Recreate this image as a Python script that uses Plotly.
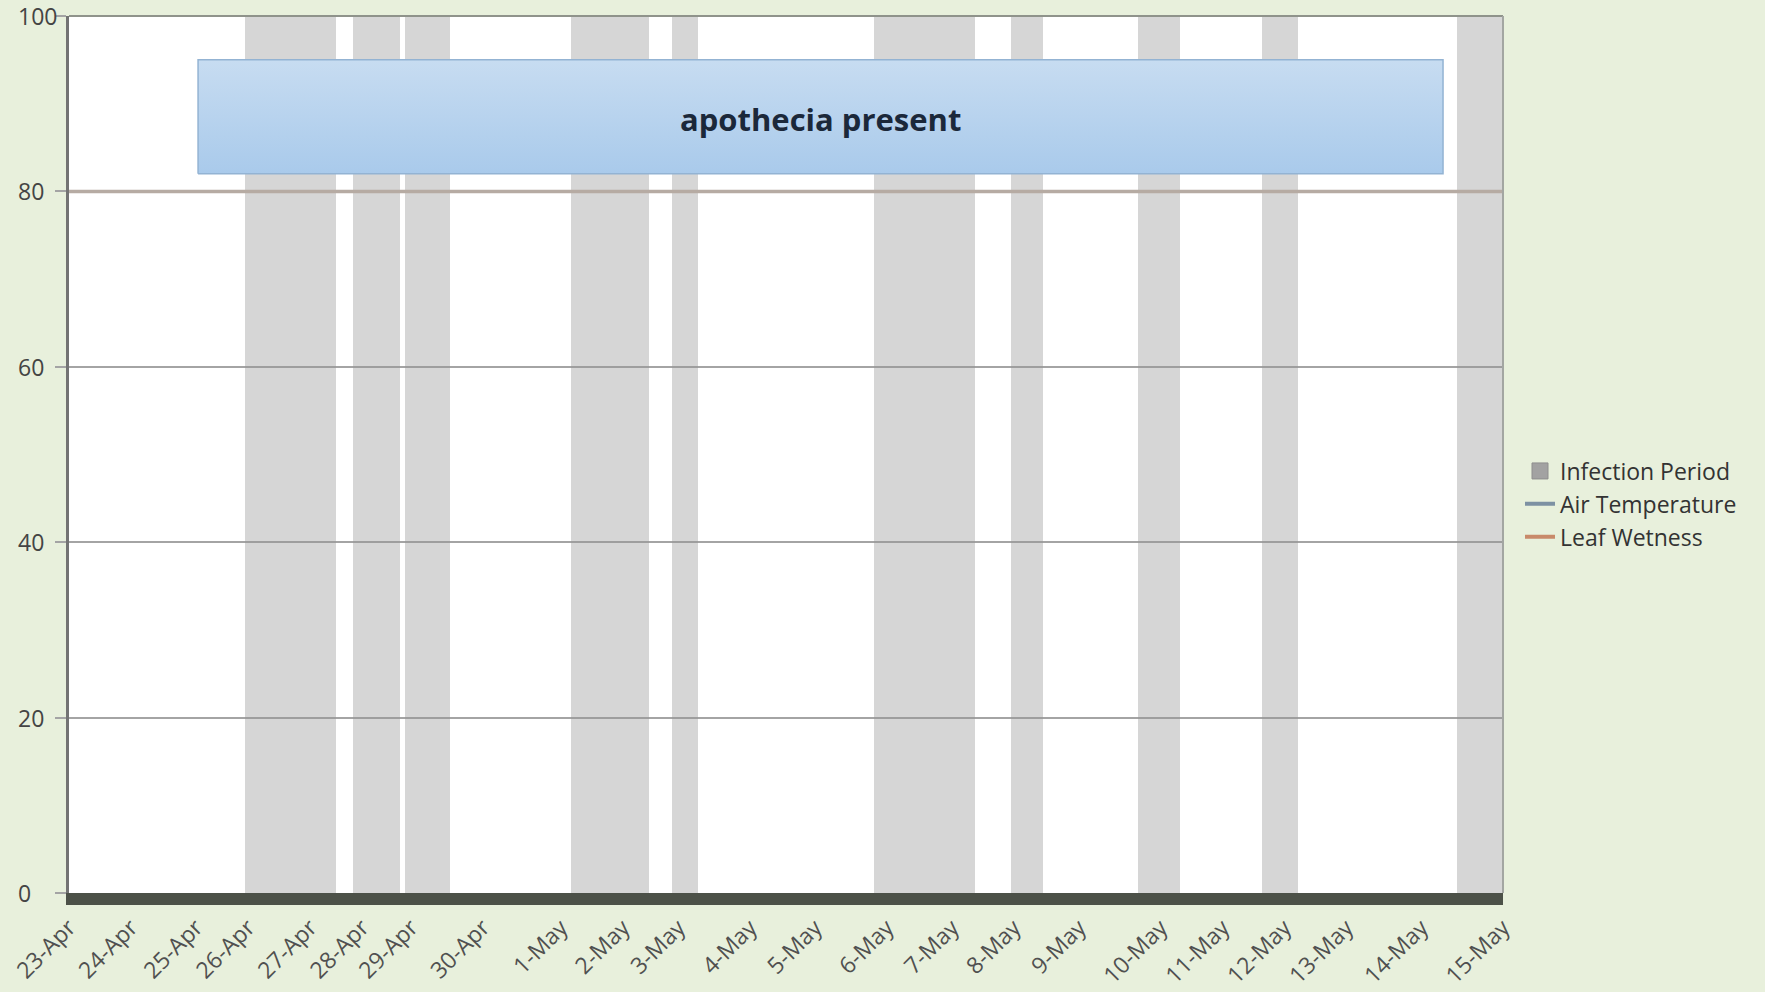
import plotly.graph_objects as go

# Reading index along the x axis (440 hourly-ish readings, day labels at first reading of each day)
day_labels = ["23-Apr", "24-Apr", "25-Apr", "26-Apr", "27-Apr", "28-Apr", "29-Apr", "30-Apr",
              "1-May", "2-May", "3-May", "4-May", "5-May", "6-May", "7-May", "8-May",
              "9-May", "10-May", "11-May", "12-May", "13-May", "14-May", "15-May"]
day_start_index = [0, 19, 39, 55, 74, 90, 105, 127, 151, 170, 187, 209, 229, 251,
                   271, 290, 310, 335, 354, 373, 392, 415, 440]

# Infection periods (start / end reading index)
infection_start = [54, 87, 103, 154, 185, 247, 289, 328, 366, 426]
infection_end = [82, 101.5, 117, 178, 193, 278, 299, 341, 377, 440]

# Leaf wetness readings
leaf_wetness_index = [0, 440]
leaf_wetness = [80, 80]

# Period with apothecia present
apothecia_period = [39.6, 421.6]

y_ticks = [0, 20, 40, 60, 80, 100]

W, H = 1765, 992
L, R, T, B = 69, 262, 16, 99
PLOT_W = W - L - R

fig = go.Figure()

# Infection periods as full-height columns
centers = [(s + e) / 2 for s, e in zip(infection_start, infection_end)]
widths = [e - s for s, e in zip(infection_start, infection_end)]
fig.add_trace(go.Bar(
    x=centers, y=[100] * len(centers), width=widths,
    marker=dict(color="rgba(150,150,150,0.39)", line=dict(width=0)),
    showlegend=False, hoverinfo="skip",
))

# Leaf wetness line
fig.add_trace(go.Scatter(
    x=leaf_wetness_index, y=leaf_wetness, mode="lines",
    line=dict(color="#b6aba3", width=3.5),
    showlegend=False, hoverinfo="skip",
))

# Apothecia box with vertical gradient
a0, a1 = apothecia_period
box_lo, box_hi = 82, 95
fig.add_trace(go.Scatter(
    x=[a0, a1, a1, a0, a0], y=[box_lo, box_lo, box_hi, box_hi, box_lo],
    mode="lines", fill="toself",
    fillgradient=dict(type="vertical", colorscale=[[0, "#a9caeb"], [1, "#c7dcf1"]]),
    line=dict(color="#93b3d3", width=1.5),
    showlegend=False, hoverinfo="skip",
))
fig.add_annotation(
    x=(a0 + a1) / 2, y=(box_lo + box_hi) / 2 - 0.3, xref="x", yref="y",
    text="<b>apothecia present</b>", showarrow=False,
    font=dict(family="Open Sans", size=31, color="#1b283a"),
)

# Left-aligned value labels for the y axis
for v in y_ticks:
    fig.add_annotation(
        x=(16 - L) / PLOT_W, y=v, xref="paper", yref="y",
        text=str(v), showarrow=False, xanchor="left", yanchor="middle",
        font=dict(family="Open Sans", size=23, color="#444444"),
    )

# Legend entries
fig.add_trace(go.Scatter(
    x=[None], y=[None], mode="markers", name="Infection Period",
    marker=dict(symbol="square", size=16, color="#a2a2a2", line=dict(color="#8e8e8e", width=1)),
))
fig.add_trace(go.Scatter(
    x=[None], y=[None], mode="lines", name="Air Temperature",
    line=dict(color="#7d91a3", width=4),
))
fig.add_trace(go.Scatter(
    x=[None], y=[None], mode="lines", name="Leaf Wetness",
    line=dict(color="#c88a6a", width=4),
))

# Frame: top and right edges
fig.add_shape(type="line", xref="paper", yref="paper", x0=0, x1=1, y0=1, y1=1,
              line=dict(color="#8f938b", width=2), layer="above")
fig.add_shape(type="line", xref="paper", yref="paper", x0=1, x1=1, y0=0, y1=1,
              line=dict(color="#a3a6a2", width=2), layer="above")

fig.update_layout(
    width=W, height=H, autosize=False,
    margin=dict(l=L, r=R, t=T, b=B, pad=0, autoexpand=False),
    paper_bgcolor="#e8f0dc", plot_bgcolor="#ffffff",
    bargap=0,
    font=dict(family="Open Sans", color="#444444"),
    legend=dict(
        x=(1520 - L) / PLOT_W, y=(H - B - 504) / (H - T - B),
        xanchor="left", yanchor="middle",
        font=dict(family="Open Sans", size=23, color="#333333"),
        bgcolor="rgba(0,0,0,0)", itemsizing="trace", tracegroupgap=0,
    ),
    xaxis=dict(
        range=[0, 440], tickmode="array", automargin=False,
        tickvals=day_start_index, ticktext=day_labels, tickangle=-45,
        ticklabeloverflow="allow",
        showgrid=False, zeroline=False,
        showline=True, linewidth=12, linecolor="#4c5148",
        ticks="", tickfont=dict(family="Open Sans", size=23, color="#505050"),
    ),
    yaxis=dict(
        range=[0, 100], tickmode="array", tickvals=y_ticks, automargin=False,
        showticklabels=False,
        showgrid=True, gridcolor="#a4a4a4", gridwidth=2,
        zeroline=False,
        showline=True, linewidth=3, linecolor="#737373",
        ticks="outside", ticklen=11, tickwidth=2, tickcolor="#a4a4a4",
    ),
)

fig.write_html("out.html")
